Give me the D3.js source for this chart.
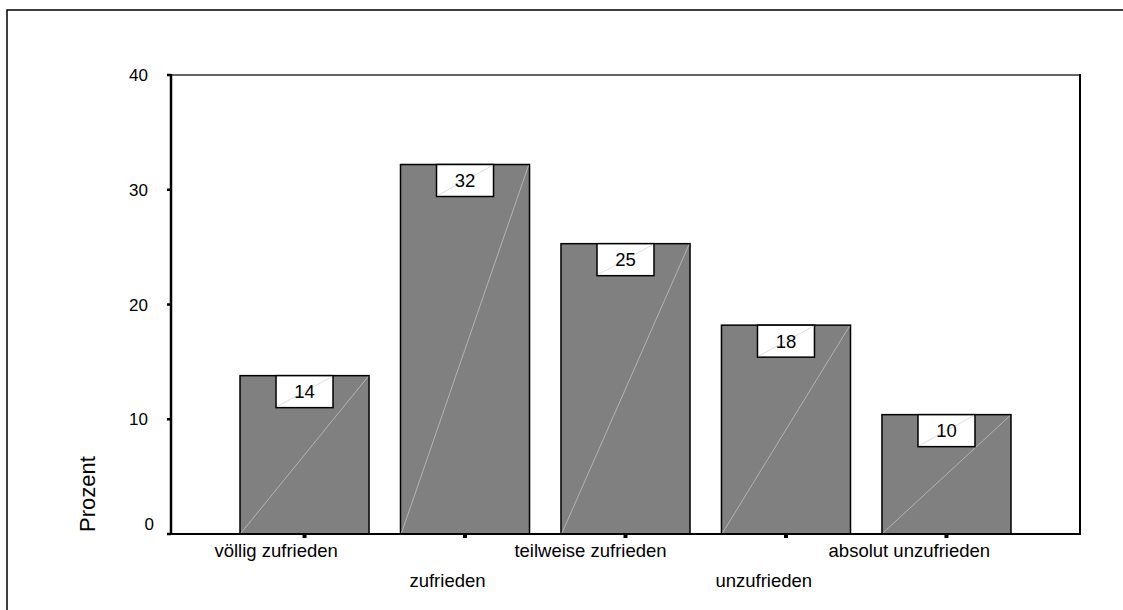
<!DOCTYPE html>
<html><head><meta charset="utf-8">
<script src="https://cdn.jsdelivr.net/npm/d3@7/dist/d3.min.js"></script>
<style>body{margin:0;background:#fff}svg{display:block;font-family:"Liberation Sans",Arial,sans-serif}</style>
</head><body>
<svg id="c" width="1123" height="610"></svg>
<script>
const categories = ["völlig zufrieden","zufrieden","teilweise zufrieden","unzufrieden","absolut unzufrieden"];
const values = [13.8, 32.2, 25.3, 18.2, 10.4];
const valueLabels = ["14","32","25","18","10"];
const yTicks = [0,10,20,30,40];
const yTitle = "Prozent";

const svg = d3.select("#c");
const L=171, R=1080, T=75, B=534;
const x = d3.scaleBand().domain(categories).range([L,R]).paddingInner(0.196).paddingOuter(0.43);
const y = d3.scaleLinear().domain([0,40]).range([B,T]);

// outer frame
svg.append("path").attr("d","M7,610V10H1123").attr("fill","none").attr("stroke","#000").attr("stroke-width",1.5);

// frame of plot: top gray, right black
svg.append("line").attr("x1",L).attr("x2",R).attr("y1",T).attr("y2",T).attr("stroke","#666").attr("stroke-width",2);
svg.append("line").attr("x1",R).attr("x2",R).attr("y1",T-1).attr("y2",B+1).attr("stroke","#000").attr("stroke-width",2);

// bars
const g = svg.append("g");
categories.forEach((c,i)=>{
  const x0 = x(c), w = x.bandwidth(), y0 = y(values[i]), h = B - y0;
  g.append("rect").attr("x",x0).attr("y",y0).attr("width",w).attr("height",h)
    .attr("fill","#808080").attr("stroke","#000").attr("stroke-width",1.5);
  g.append("line").attr("x1",x0+1).attr("y1",B-1).attr("x2",x0+w-1).attr("y2",y0+1)
    .attr("stroke","#c8c8c8").attr("stroke-width",0.7);
  const bw=57, bh=32, cx=x0+w/2;
  g.append("rect").attr("x",cx-bw/2).attr("y",y0).attr("width",bw).attr("height",bh)
    .attr("fill","#fff").attr("stroke","#000").attr("stroke-width",1.5);
  g.append("line").attr("x1",cx-bw/2+1).attr("y1",y0+bh-1).attr("x2",cx+bw/2-1).attr("y2",y0+1)
    .attr("stroke","#d0d0d0").attr("stroke-width",0.7);
  g.append("text").attr("x",cx).attr("y",y0+bh/2+6.5).attr("text-anchor","middle")
    .attr("font-size",18.5).attr("fill","#000").text(valueLabels[i]);
});

// bottom axis line
svg.append("line").attr("x1",L).attr("x2",R+1).attr("y1",B).attr("y2",B).attr("stroke","#000").attr("stroke-width",2);
// y axis line
svg.append("line").attr("x1",L).attr("x2",L).attr("y1",T-1).attr("y2",B+1).attr("stroke","#000").attr("stroke-width",2.5);

// y ticks
yTicks.forEach(t=>{
  svg.append("line").attr("x1",L-4).attr("x2",L).attr("y1",y(t)).attr("y2",y(t)).attr("stroke","#000").attr("stroke-width",2.5);
  svg.append("text").attr("x", t===0?154:148).attr("y", t===0? y(t)-4 : y(t)+6)
    .attr("text-anchor","end").attr("font-size",17).text(t);
});

// x ticks and labels
categories.forEach((c,i)=>{
  const cx = x(c)+x.bandwidth()/2;
  svg.append("rect").attr("x",cx-2).attr("y",B+1).attr("width",4).attr("height",3).attr("fill","#000");
  const t = svg.append("text").attr("font-size",18.5).attr("y", i%2===0?557:587).text(c);
  const tw = t.node().getComputedTextLength();
  t.attr("x", cx - 0.73*tw);
});

// y title
svg.append("text").attr("transform","translate(95,494) rotate(-90)").attr("text-anchor","middle")
  .attr("font-size",22).text(yTitle);
</script>
</body></html>
